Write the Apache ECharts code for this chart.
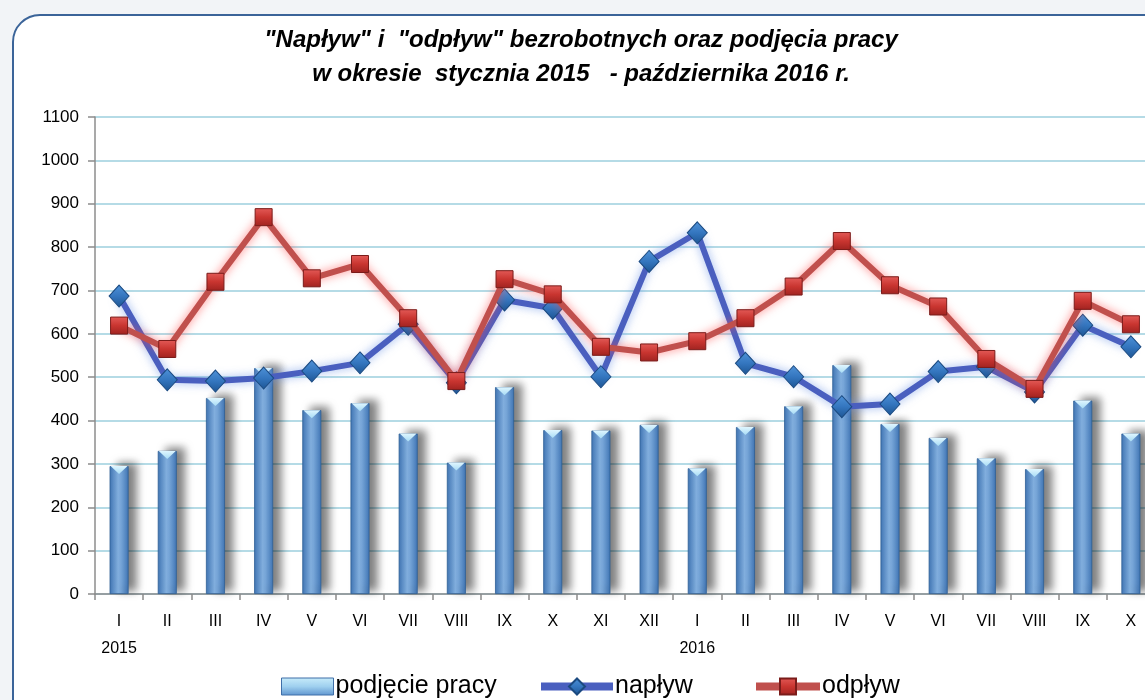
<!DOCTYPE html>
<html>
<head>
<meta charset="utf-8">
<script src="https://cdn.jsdelivr.net/npm/echarts@6/dist/echarts.min.js"></script>
<style>
html,body{margin:0;padding:0;width:1145px;height:700px;overflow:hidden;background:#f2f4f7;}
#frame{position:absolute;left:12px;top:14px;width:1170px;height:730px;border:2px solid #3b6499;border-radius:28px;background:#fff;box-sizing:border-box;}
#main{position:absolute;left:0;top:0;width:1145px;height:700px;}
</style>
</head>
<body>
<div id="frame"></div>
<div id="main"></div>
<script>
const months = ['I','II','III','IV','V','VI','VII','VIII','IX','X','XI','XII','I','II','III','IV','V','VI','VII','VIII','IX','X'];
const years = ['2015','','','','','','','','','','','','2016','','','','','','','','',''];
const podjeciePracy = [295,330,452,521,424,440,370,303,477,378,377,390,290,385,433,528,392,360,313,288,446,370];
const naplyw = [687,494,491,498,514,533,622,487,678,659,501,767,833,532,501,432,438,513,524,466,620,570];
const odplyw = [619,565,720,869,728,761,636,491,726,691,570,557,583,636,709,814,712,663,542,473,676,622];
const yTicks = {min:0, max:1100, interval:100};

const categories = months.map((m,i)=> m + '#' + i);
const font = 'Liberation Sans';
const legendText = {fontFamily: font, fontSize: 25, color: '#000', padding: [0,0,0,-3]};
const chart = echarts.init(document.getElementById('main'));
chart.setOption({
  backgroundColor: 'transparent',
  animation: false,
  title: {
    text: '"Napływ" i  "odpływ" bezrobotnych oraz podjęcia pracy\nw okresie  stycznia 2015   - października 2016 r.',
    left: 576, top: 18, textAlign: 'center',
    textStyle: {fontFamily: font, fontSize: 24, fontWeight: 'bold', fontStyle: 'italic', color: '#000', lineHeight: 34}
  },
  legend: [
    {
      left: 276, top: 669, itemWidth: 52, itemHeight: 17, textStyle: legendText,
      data: [{name: 'podjęcie pracy', icon: 'rect', itemStyle: {
        color: new echarts.graphic.LinearGradient(0,0,0,1,[{offset:0,color:'#c8ecfa'},{offset:0.5,color:'#9fd0ef'},{offset:1,color:'#5f95cf'}]),
        borderColor: '#3f6fa8', borderWidth: 1, shadowBlur: 0}}]
    },
    {
      left: 532, top: 669, itemWidth: 72, itemHeight: 20, textStyle: legendText,
      data: [{name: 'napływ', lineStyle: {width: 8, shadowBlur: 0}, itemStyle: {shadowBlur: 0}}]
    },
    {
      left: 747, top: 669, itemWidth: 64, itemHeight: 20, textStyle: legendText,
      data: [{name: 'odpływ', lineStyle: {width: 8, shadowBlur: 0}, itemStyle: {shadowBlur: 0}}]
    }
  ],
  grid: {left: 95, width: 1060, top: 117, bottom: 106, outerBoundsMode: 'none', containLabel: false},
  xAxis: {
    type: 'category', data: categories, boundaryGap: true,
    axisLine: {lineStyle: {color: '#8c8c8c', width: 1.5}},
    axisTick: {show: true, length: 6, lineStyle: {color: '#8c8c8c', width: 1.5}},
    axisLabel: {
      interval: 0, margin: 14, fontFamily: font, fontSize: 16, color: '#000', lineHeight: 27,
      formatter: (v, i) => {
        const y = years[i];
        return y ? months[i] + '\n{y|' + y + '}' : months[i];
      },
      rich: {y: {fontFamily: font, fontSize: 16, color: '#000', lineHeight: 27, align: 'center'}}
    },
    splitLine: {show: false}
  },
  yAxis: {
    type: 'value', min: yTicks.min, max: yTicks.max, interval: yTicks.interval,
    axisLine: {show: true, lineStyle: {color: '#8c8c8c', width: 1.5}},
    axisTick: {show: true, inside: false, length: 7, lineStyle: {color: '#8c8c8c', width: 1.5}},
    axisLabel: {fontFamily: font, fontSize: 17, color: '#000', margin: 16, formatter: v => String(v)},
    splitLine: {lineStyle: {color: '#b5dbe6', width: 2}}
  },
  series: [
    {
      name: 'podjęcie pracy', type: 'bar', data: podjeciePracy, barWidth: 19, barGap: '-100%', z: 1,
      itemStyle: {
        color: new echarts.graphic.LinearGradient(0,0,1,0,[
          {offset:0,color:'#3f74b3'},{offset:0.45,color:'#86b5e6'},{offset:0.6,color:'#7aaade'},{offset:1,color:'#3f74b3'}]),
        borderColor: '#2f5f96', borderWidth: 0.8,
        shadowBlur: 9, shadowOffsetX: 8, shadowOffsetY: -3, shadowColor: 'rgba(0,0,0,0.5)'
      }
    },
    {
      name: 'bevel', type: 'pictorialBar', data: podjeciePracy, barWidth: 19, barGap: '-100%', z: 2,
      symbol: 'path://M0,0 L10,0 L5,5 Z', symbolSize: [17, 8], symbolPosition: 'end', symbolOffset: [0, 0],
      silent: true,
      itemStyle: {color: new echarts.graphic.LinearGradient(0,0,0,1,[{offset:0,color:'#dff6ff'},{offset:1,color:'#a8dcf5'}])}
    },
    {
      name: 'napływ', type: 'line', data: naplyw, z: 3,
      symbol: 'diamond', symbolSize: [20,22],
      lineStyle: {color: '#4a5fbf', width: 6, shadowBlur: 10, shadowColor: 'rgba(110,150,230,0.7)'},
      itemStyle: {
        color: new echarts.graphic.LinearGradient(0,0,0,1,[{offset:0,color:'#4f92d8'},{offset:0.5,color:'#3476bf'},{offset:1,color:'#1d5593'}]),
        borderColor: '#1b4a80', borderWidth: 1
      }
    },
    {
      name: 'odpływ', type: 'line', data: odplyw, z: 4,
      symbol: 'rect', symbolSize: 17,
      lineStyle: {color: '#c0504d', width: 6, shadowBlur: 10, shadowColor: 'rgba(255,70,70,0.65)'},
      itemStyle: {
        color: new echarts.graphic.LinearGradient(0,0,0,1,[{offset:0,color:'#e35a57'},{offset:0.5,color:'#c93530'},{offset:1,color:'#a02320'}]),
        borderColor: '#7a1c1a', borderWidth: 1
      }
    }
  ]
});
</script>
</body>
</html>
